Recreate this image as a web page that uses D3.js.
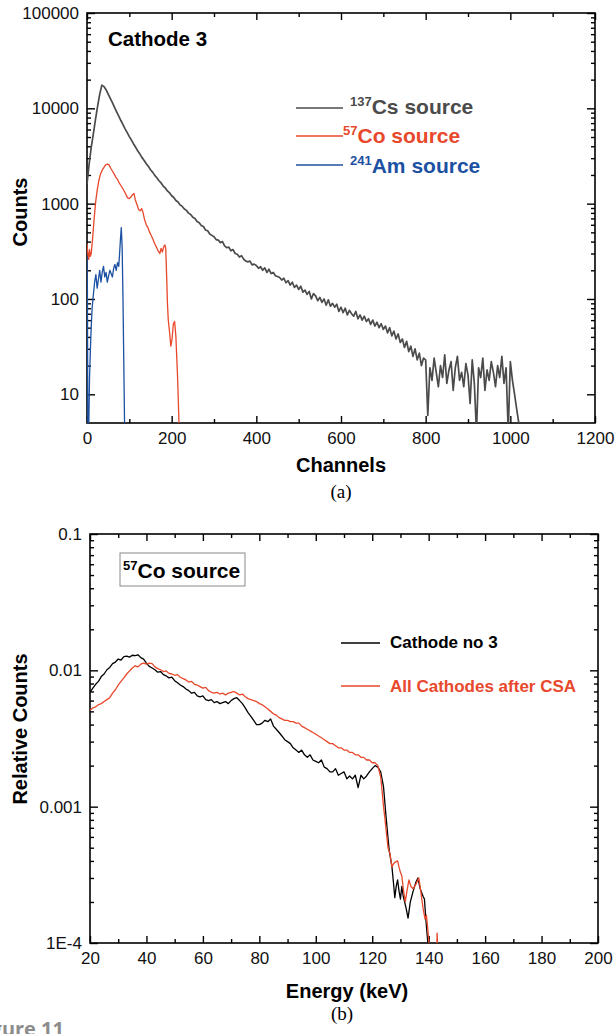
<!DOCTYPE html>
<html>
<head>
<meta charset="utf-8">
<script src="https://cdn.jsdelivr.net/npm/d3@7"></script>
<style>
  body { margin: 0; background: #fff; }
  svg { display: block; font-family: "Liberation Sans", Arial, sans-serif; }
</style>
</head>
<body>
<div id="chart"></div>
<script>
// ---- data: (a) Cathode 3 spectra, channels vs counts ----
const csChannels = d3.range(0, 1030, 5);
const csCounts = [
  1600, 2600, 3900, 5400, 7600, 10500, 14000, 17500, 16900, 15700,
  14100, 12700, 11450, 10250, 9200, 8300, 7450, 6750, 6100, 5560,
  5050, 4640, 4230, 3900, 3570, 3310, 3040, 2840, 2620, 2460,
  2270, 2140, 1980, 1870, 1740, 1650, 1530, 1460, 1360, 1300,
  1210, 1160, 1080, 1040, 970, 935, 880, 850, 795, 770,
  720, 700, 650, 630, 590, 575, 530, 520, 480, 465,
  450, 420, 415, 390, 400, 360, 345, 350, 320, 330,
  300, 295, 275, 285, 262, 250, 245, 250, 228, 232,
  225, 210, 218, 200, 212, 190, 205, 185, 190, 175,
  172, 168, 158, 165, 148, 156, 140, 150, 132, 140,
  126, 136, 118, 124, 112, 120, 100, 114, 108, 96,
  104, 92, 100, 86, 98, 84, 90, 82, 88, 74,
  82, 72, 80, 68, 76, 70, 66, 74, 62, 68,
  60, 66, 58, 62, 54, 60, 52, 57, 50, 55,
  48, 52, 44, 50, 41, 46, 38, 43, 35, 38,
  31, 36, 28, 32, 25, 30, 23, 27, 20, 24,
  23, 6, 19, 14, 24, 17, 12, 20, 15, 26,
  13, 18, 22, 11, 19, 25, 14, 17, 12, 21,
  16, 8, 23, 13, 4, 19, 15, 24, 11, 18,
  14, 22, 17, 12, 20, 15, 25, 13, 19, 4,
  22, 14, 10, 7, 5, 3
];
const coSpectrum = [
  [0, 380], [2, 300], [4, 260], [6, 330], [8, 280], [10, 300], [13, 420], [16, 620],
  [20, 1000], [24, 1380], [28, 1750], [32, 2050], [36, 2250], [40, 2400], [44, 2550],
  [48, 2600], [52, 2550], [56, 2350], [60, 2200], [64, 2050], [68, 1900], [72, 1800],
  [76, 1650], [80, 1550], [84, 1450], [88, 1350], [92, 1250], [96, 1150], [100, 1130],
  [104, 1180], [108, 1250], [111, 1280], [114, 1100], [118, 980], [122, 870], [126, 840],
  [129, 890], [132, 820], [136, 680], [140, 600], [144, 560], [148, 500], [152, 460],
  [156, 420], [160, 380], [164, 350], [168, 320], [172, 300], [175, 340], [178, 310],
  [181, 350], [184, 370], [186, 340], [188, 180], [190, 90], [192, 60], [195, 45],
  [198, 32], [201, 38], [204, 55], [207, 58], [210, 40], [214, 15], [218, 4]
];
const amSpectrum = [
  [0, 280], [1, 120], [2, 4], [4, 4], [6, 15], [9, 40], [12, 80], [15, 110], [18, 150],
  [21, 180], [24, 130], [27, 160], [30, 200], [33, 150], [36, 190], [39, 220], [42, 170],
  [45, 190], [48, 150], [51, 175], [54, 200], [57, 185], [60, 170], [63, 210], [66, 230],
  [69, 200], [72, 240], [75, 220], [77, 300], [79, 420], [81, 560], [83, 350], [85, 100],
  [87, 20], [89, 4]
];
const channelTicks = [0, 200, 400, 600, 800, 1000, 1200];
const channelMinor = [100, 300, 500, 700, 900, 1100];
const countTicks = [10, 100, 1000, 10000, 100000];

// ---- data: (b) 57Co source, energy vs relative counts ----
const cathode3 = [
  [20, 0.0069], [21, 0.0074], [22, 0.0079], [23, 0.0083], [24, 0.0090], [25, 0.0094],
  [26, 0.0101], [27, 0.0105], [28, 0.0112], [29, 0.0115], [30, 0.0121], [31, 0.0119],
  [32, 0.0126], [33, 0.0127], [34, 0.0125], [35, 0.0129], [36, 0.0128], [37, 0.0130],
  [38, 0.0124], [39, 0.0121], [40, 0.0113], [41, 0.0107], [42, 0.0104], [43, 0.0101],
  [44, 0.0097], [45, 0.0098], [46, 0.0093], [47, 0.0091], [48, 0.0088], [49, 0.0089],
  [50, 0.0084], [51, 0.0081], [52, 0.0078], [53, 0.0076], [54, 0.0073], [55, 0.0071],
  [56, 0.0068], [57, 0.0069], [58, 0.0065], [59, 0.0064], [60, 0.0065], [61, 0.0061],
  [62, 0.0060], [63, 0.0061], [64, 0.0058], [65, 0.0059], [66, 0.0057], [67, 0.0058],
  [68, 0.0059], [69, 0.0057], [70, 0.0060], [71, 0.0062], [72, 0.0063], [73, 0.0060],
  [74, 0.0057], [75, 0.0053], [76, 0.0049], [77, 0.0046], [78, 0.0043], [79, 0.0040],
  [80, 0.0040], [81, 0.0041], [82, 0.0043], [83, 0.0042], [84, 0.0044], [85, 0.0039],
  [86, 0.0037], [87, 0.0035], [88, 0.0033], [89, 0.0031], [90, 0.0030], [91, 0.0029],
  [92, 0.0027], [93, 0.0026], [94, 0.0025], [95, 0.0026], [96, 0.0024], [97, 0.0023],
  [98, 0.0024], [99, 0.0022], [100, 0.00215], [101, 0.0021], [102, 0.0022], [103, 0.00195],
  [104, 0.0019], [105, 0.0018], [106, 0.0018], [107, 0.0019], [108, 0.0017], [109, 0.00175],
  [110, 0.0018], [111, 0.0016], [112, 0.00168], [113, 0.0016], [114, 0.0017], [115, 0.00138],
  [116, 0.0017], [117, 0.0016], [118, 0.00168], [119, 0.0018], [120, 0.0019], [121, 0.0020],
  [122, 0.00195], [123, 0.0018], [124, 0.0014], [125, 0.0008], [125.5, 0.00062], [126, 0.00048],
  [127, 0.00036], [127.5, 0.00028], [128, 0.000215], [128.5, 0.00026], [129, 0.00029],
  [129.5, 0.00024], [130, 0.00021], [130.5, 0.00026], [131, 0.00022], [132, 0.00018],
  [132.7, 0.000152], [133.5, 0.0002], [134.5, 0.00024], [135.5, 0.00028], [136.2, 0.0003],
  [137, 0.00025], [138, 0.00022], [138.5, 0.00021], [139, 0.00015], [139.7, 0.0001]
];
const allCathodes = [
  [20, 0.0051], [21, 0.0053], [22, 0.0054], [23, 0.0056], [24, 0.0057], [25, 0.0059],
  [26, 0.0061], [27, 0.0063], [28, 0.0068], [29, 0.0072], [30, 0.0078], [31, 0.0083],
  [32, 0.0088], [33, 0.0094], [34, 0.0099], [35, 0.0104], [36, 0.0108], [37, 0.0106],
  [38, 0.0111], [39, 0.0113], [40, 0.0111], [41, 0.0113], [42, 0.0112], [43, 0.0106],
  [44, 0.0103], [45, 0.0101], [46, 0.0098], [47, 0.0099], [48, 0.0095], [49, 0.0094],
  [50, 0.0092], [51, 0.0093], [52, 0.0089], [53, 0.0087], [54, 0.0085], [55, 0.0082],
  [56, 0.0083], [57, 0.0079], [58, 0.0078], [59, 0.0076], [60, 0.0074], [61, 0.0075],
  [62, 0.0071], [63, 0.0069], [64, 0.0068], [65, 0.0069], [66, 0.0067], [67, 0.0068],
  [68, 0.0066], [69, 0.0068], [70, 0.0069], [71, 0.0070], [72, 0.0068], [73, 0.0066],
  [74, 0.0067], [75, 0.0064], [76, 0.0062], [77, 0.0061], [78, 0.0060], [79, 0.0059],
  [80, 0.0057], [81, 0.0056], [82, 0.0054], [83, 0.0052], [84, 0.0050], [85, 0.0048],
  [86, 0.0047], [87, 0.0045], [88, 0.0044], [89, 0.0043], [90, 0.0043], [91, 0.0042],
  [92, 0.0042], [93, 0.0041], [94, 0.0041], [95, 0.0039], [96, 0.0038], [97, 0.0037],
  [98, 0.0036], [99, 0.0035], [100, 0.0034], [101, 0.0033], [102, 0.0032], [103, 0.0031],
  [104, 0.0030], [105, 0.0029], [106, 0.0029], [107, 0.0028], [108, 0.0027], [109, 0.0027],
  [110, 0.0026], [111, 0.0026], [112, 0.0025], [113, 0.0025], [114, 0.0024], [115, 0.0024],
  [116, 0.0023], [117, 0.0023], [118, 0.0022], [119, 0.0022], [120, 0.0021], [121, 0.0021],
  [122, 0.0020], [123, 0.00165], [123.5, 0.0013], [124, 0.0010], [124.5, 0.00082],
  [125, 0.00065], [125.6, 0.0005], [126.3, 0.00045], [127, 0.00036], [127.5, 0.00038],
  [128, 0.00039], [129, 0.0004], [129.5, 0.00036], [130, 0.00033], [130.5, 0.00031],
  [131, 0.00025], [131.7, 0.0002], [132.3, 0.00024], [133, 0.00029], [133.7, 0.00026],
  [134.5, 0.00025], [135.5, 0.00027], [136.5, 0.0003], [137.2, 0.00024], [138, 0.00018],
  [138.7, 0.00015], [139.2, 0.00016], [139.7, 0.000125], [140.5, 0.00008], [142.8, 0.00008],
  [143, 0.000118], [143.3, 0.00008]
];
const energyTicks = [20, 40, 60, 80, 100, 120, 140, 160, 180, 200];
const energyMinor = [30, 50, 70, 90, 110, 130, 150, 170, 190];
const relTicks = [0.0001, 0.001, 0.01, 0.1];

const W = 615, H = 1034;
const gray = "#4b4b4b", red = "#e8482c", blue = "#1c50a2";

const svg = d3.select("#chart").append("svg")
    .attr("width", W)
    .attr("height", H);

// minor ticks 2..9 in each decade
function logMinors(ticks) {
    let out = [];
    ticks.slice(0, -1).forEach(function(t) {
        for (let k = 2; k <= 9; k++) out.push(t * k);
    });
    return out;
}

function drawFrame(x, y, xMajor, xMinor, yMajor, yFormat, id) {
    const [x0, x1] = x.range();
    const [y0, y1] = y.range();
    const yMinor = logMinors(yMajor);

    svg.append("defs").append("clipPath").attr("id", id)
        .append("rect")
        .attr("x", x0).attr("y", y1)
        .attr("width", x1 - x0).attr("height", y0 - y1);

    const axes = svg.append("g").attr("class", "axes");

    function put(axis, tx, ty, labels) {
        const g = axes.append("g")
            .attr("transform", "translate(" + tx + "," + ty + ")")
            .call(axis);
        g.select(".domain").remove();
        g.selectAll("line").attr("stroke", "#000").attr("stroke-width", 1.4);
        if (!labels) g.selectAll("text").remove();
        g.selectAll("text").attr("font-size", "17px").attr("fill", "#111");
    }

    // bottom / top
    put(d3.axisBottom(x).tickValues(xMajor).tickFormat(d3.format("d"))
        .tickSizeInner(-7).tickSizeOuter(0).tickPadding(9), 0, y0, true);
    put(d3.axisBottom(x).tickValues(xMinor).tickSizeInner(-4).tickSizeOuter(0), 0, y0, false);
    put(d3.axisTop(x).tickValues(xMajor).tickSizeInner(-7).tickSizeOuter(0), 0, y1, false);
    put(d3.axisTop(x).tickValues(xMinor).tickSizeInner(-4).tickSizeOuter(0), 0, y1, false);
    // left / right
    put(d3.axisLeft(y).tickValues(yMajor).tickFormat(yFormat)
        .tickSizeInner(-8).tickSizeOuter(0).tickPadding(8), x0, 0, true);
    put(d3.axisLeft(y).tickValues(yMinor).tickSizeInner(-4).tickSizeOuter(0), x0, 0, false);
    put(d3.axisRight(y).tickValues(yMajor).tickSizeInner(-8).tickSizeOuter(0), x1, 0, false);
    put(d3.axisRight(y).tickValues(yMinor).tickSizeInner(-4).tickSizeOuter(0), x1, 0, false);

    axes.append("rect")
        .attr("x", x0).attr("y", y1)
        .attr("width", x1 - x0).attr("height", y0 - y1)
        .attr("fill", "none")
        .attr("stroke", "#000")
        .attr("stroke-width", 1.6);
}

function drawCurve(data, x, y, color, clipId, width) {
    const line = d3.line()
        .x(function(d) { return x(d[0]); })
        .y(function(d) { return y(Math.max(d[1], y.domain()[0] * 0.5)); });
    svg.append("path")
        .datum(data)
        .attr("clip-path", "url(#" + clipId + ")")
        .attr("d", line)
        .attr("fill", "none")
        .attr("stroke", color)
        .attr("stroke-width", width || 1.3)
        .attr("stroke-linejoin", "round");
}

function legendRow(x1, x2, ly, tx, ty, sup, label, color, size) {
    svg.append("line")
        .attr("x1", x1).attr("x2", x2)
        .attr("y1", ly).attr("y2", ly)
        .attr("stroke", color).attr("stroke-width", 1.4);
    const t = svg.append("text")
        .attr("x", tx).attr("y", ty)
        .attr("fill", color)
        .attr("font-weight", "bold")
        .attr("font-size", size + "px");
    if (sup) {
        t.append("tspan").attr("font-size", "13px").attr("dy", -8).text(sup);
        t.append("tspan").attr("dy", 8).text(label);
    } else {
        t.text(label);
    }
}

// ================= (a) =================
const xA = d3.scaleLinear().domain([0, 1200]).range([87, 595]);
const yA = d3.scaleLog().domain([5, 100000]).range([423, 13]);

drawFrame(xA, yA, channelTicks, channelMinor, countTicks, d3.format("d"), "clipA");

const csSpectrum = csChannels.map(function(c, i) { return [c, csCounts[i]]; });
drawCurve(csSpectrum, xA, yA, gray, "clipA", 1.7);
drawCurve(coSpectrum, xA, yA, red, "clipA");
drawCurve(amSpectrum, xA, yA, blue, "clipA");

svg.append("text")
    .attr("x", 108).attr("y", 46)
    .attr("font-weight", "bold").attr("font-size", "20.5px")
    .text("Cathode 3");

legendRow(296, 343, 108, 350, 114, "137", "Cs source", gray, 21);
legendRow(296, 343, 136, 343, 143, "57", "Co source", red, 21);
legendRow(296, 343, 165, 350, 173, "241", "Am source", blue, 21);

svg.append("text")
    .attr("transform", "translate(27,212) rotate(-90)")
    .attr("text-anchor", "middle")
    .attr("font-weight", "bold").attr("font-size", "20px")
    .text("Counts");

svg.append("text")
    .attr("x", 341).attr("y", 472)
    .attr("text-anchor", "middle")
    .attr("font-weight", "bold").attr("font-size", "20px")
    .text("Channels");

svg.append("text")
    .attr("x", 341).attr("y", 498)
    .attr("text-anchor", "middle")
    .attr("font-family", "'Liberation Serif', 'Times New Roman', serif")
    .attr("font-size", "19px")
    .text("(a)");

// ================= (b) =================
const xB = d3.scaleLinear().domain([20, 200]).range([90, 598]);
const yB = d3.scaleLog().domain([0.0001, 0.1]).range([943, 534]);

drawFrame(xB, yB, energyTicks, energyMinor, relTicks,
    function(v) { return v < 0.0005 ? "1E-4" : String(v); }, "clipB");

drawCurve(cathode3, xB, yB, "#000", "clipB");
drawCurve(allCathodes, xB, yB, red, "clipB");

svg.append("rect")
    .attr("x", 120).attr("y", 553)
    .attr("width", 125).attr("height", 33)
    .attr("fill", "#fff")
    .attr("stroke", "#8a8a8a").attr("stroke-width", 1);
const boxText = svg.append("text")
    .attr("x", 123).attr("y", 578)
    .attr("font-weight", "bold").attr("font-size", "21px");
boxText.append("tspan").attr("font-size", "13px").attr("dy", -8).text("57");
boxText.append("tspan").attr("dy", 8).text("Co source");

legendRow(341, 380, 643, 390, 648, null, "Cathode no 3", "#000", 17);
legendRow(341, 380, 686, 390, 692, null, "All Cathodes after CSA", red, 17);

svg.append("text")
    .attr("transform", "translate(27,729) rotate(-90)")
    .attr("text-anchor", "middle")
    .attr("font-weight", "bold").attr("font-size", "20px")
    .text("Relative Counts");

svg.append("text")
    .attr("x", 347).attr("y", 998)
    .attr("text-anchor", "middle")
    .attr("font-weight", "bold").attr("font-size", "20px")
    .text("Energy (keV)");

svg.append("text")
    .attr("x", 342).attr("y", 1020)
    .attr("text-anchor", "middle")
    .attr("font-family", "'Liberation Serif', 'Times New Roman', serif")
    .attr("font-size", "19px")
    .text("(b)");

svg.append("text")
    .attr("x", 64).attr("y", 1036)
    .attr("text-anchor", "end")
    .attr("font-family", "'Open Sans', sans-serif")
    .attr("font-weight", "bold").attr("font-size", "20px")
    .attr("fill", "#8c8c8c")
    .text("Figure 11");
</script>
</body>
</html>
